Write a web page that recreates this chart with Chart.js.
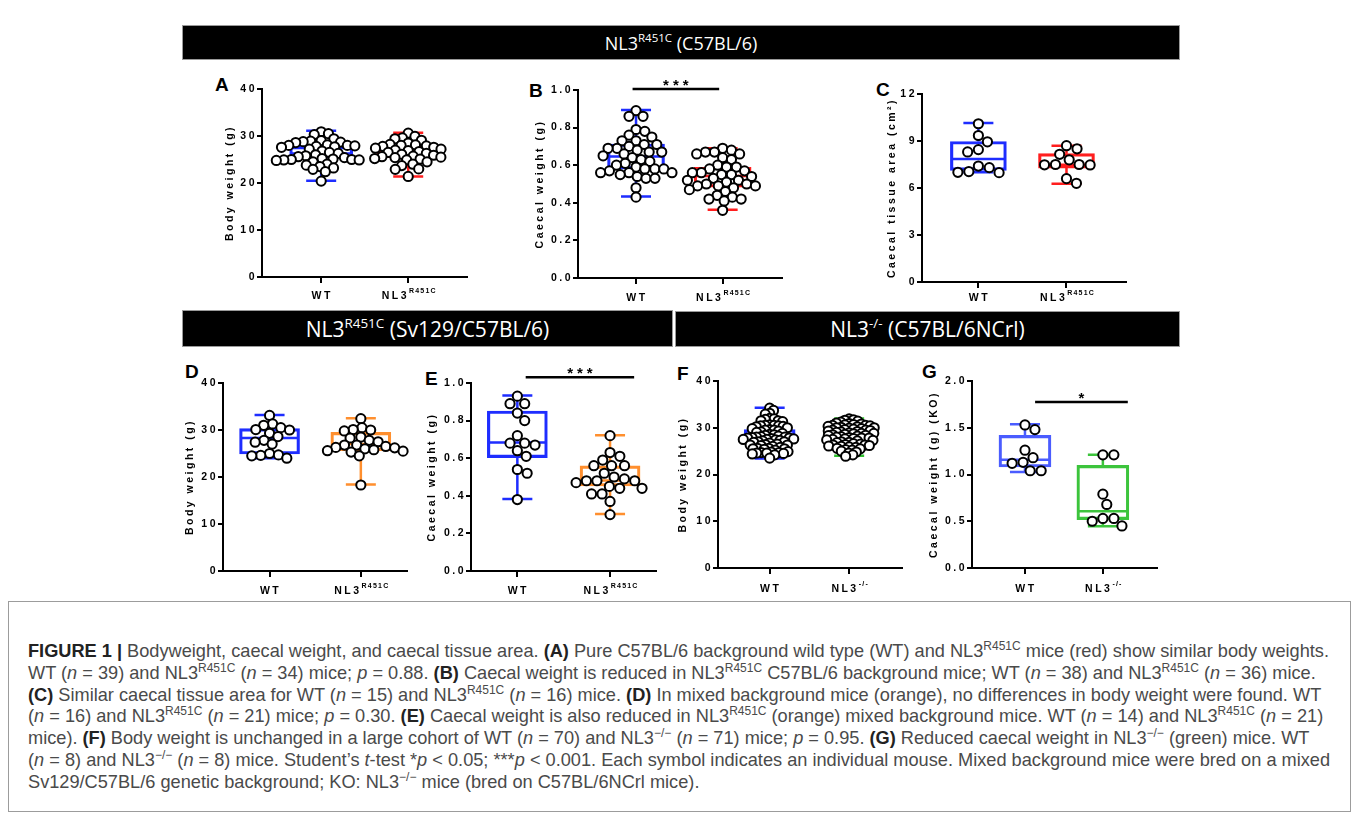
<!DOCTYPE html>
<html>
<head>
<meta charset="utf-8">
<script src="https://cdn.jsdelivr.net/npm/chart.js@4.4.1/dist/chart.umd.min.js"></script>
<style>
    body { margin: 0; background: #fff; width: 1354px; height: 815px; position: relative; overflow: hidden; font-family: "Liberation Sans", Arial, sans-serif; }
    .hdr { position: absolute; background: #000; color: #fff; border: 1px solid #9a9a9a; box-sizing: border-box;
           display: flex; align-items: center; justify-content: center; font-family: "Open Sans", sans-serif; white-space: nowrap; }
    .hdr sup { font-size: 0.64em; vertical-align: 0; position: relative; top: -0.42em; }
    .letter { position: absolute; font: bold 19px/19px "Liberation Sans", Arial, sans-serif; color: #000; }
    #caption { position: absolute; left: 8px; top: 601px; width: 1343px; height: 211px; border: 1px solid #9c9c9c; box-sizing: border-box; }
    .cl { position: absolute; left: 19px; white-space: nowrap; font-size: 18.2px; line-height: 20px; color: #4a4a4a; }
    .cl sup { font-size: 12px; vertical-align: 0; position: relative; top: -7px; }
    .cl b { color: #222; }
</style>
</head>
<body>

<div class="hdr" style="left:182px;top:25px;width:998px;height:35px;font-size:18px;">NL3<sup>R451C</sup>&nbsp;(C57BL/6)</div>
<div class="hdr" style="left:182px;top:310px;width:491px;height:37px;font-size:21px;">NL3<sup>R451C</sup>&nbsp;(Sv129/C57BL/6)</div>
<div class="hdr" style="left:675px;top:311px;width:505px;height:36px;font-size:21px;">NL3<sup>-/-</sup>&nbsp;(C57BL/6NCrl)</div>

<div class="letter" style="left:215px;top:75px;">A</div>
<div class="letter" style="left:529px;top:81px;">B</div>
<div class="letter" style="left:876px;top:80px;">C</div>
<div class="letter" style="left:185px;top:362px;">D</div>
<div class="letter" style="left:425px;top:369px;">E</div>
<div class="letter" style="left:677px;top:364px;">F</div>
<div class="letter" style="left:922px;top:362px;">G</div>

<div id="caption">
    <div class="cl" style="top:39px;"><b>FIGURE 1 |</b> Bodyweight, caecal weight, and caecal tissue area. <b>(A)</b> Pure C57BL/6 background wild type (WT) and NL3<sup>R451C</sup> mice (red) show similar body weights.</div>
    <div class="cl" style="top:61px;">WT (<i>n</i> = 39) and NL3<sup>R451C</sup> (<i>n</i> = 34) mice; <i>p</i> = 0.88. <b>(B)</b> Caecal weight is reduced in NL3<sup>R451C</sup> C57BL/6 background mice; WT (<i>n</i> = 38) and NL3<sup>R451C</sup> (<i>n</i> = 36) mice.</div>
    <div class="cl" style="top:83px;"><b>(C)</b> Similar caecal tissue area for WT (<i>n</i> = 15) and NL3<sup>R451C</sup> (<i>n</i> = 16) mice. <b>(D)</b> In mixed background mice (orange), no differences in body weight were found. WT</div>
    <div class="cl" style="top:104px;">(<i>n</i> = 16) and NL3<sup>R451C</sup> (<i>n</i> = 21) mice; <i>p</i> = 0.30. <b>(E)</b> Caecal weight is also reduced in NL3<sup>R451C</sup> (orange) mixed background mice. WT (<i>n</i> = 14) and NL3<sup>R451C</sup> (<i>n</i> = 21)</div>
    <div class="cl" style="top:126px;">mice). <b>(F)</b> Body weight is unchanged in a large cohort of WT (<i>n</i> = 70) and NL3<sup>−/−</sup> (<i>n</i> = 71) mice; <i>p</i> = 0.95. <b>(G)</b> Reduced caecal weight in NL3<sup>−/−</sup> (green) mice. WT</div>
    <div class="cl" style="top:148px;">(<i>n</i> = 8) and NL3<sup>−/−</sup> (<i>n</i> = 8) mice. Student’s <i>t</i>-test *<i>p</i> &lt; 0.05; ***<i>p</i> &lt; 0.001. Each symbol indicates an individual mouse. Mixed background mice were bred on a mixed</div>
    <div class="cl" style="top:170px;">Sv129/C57BL/6 genetic background; KO: NL3<sup>−/−</sup> mice (bred on C57BL/6NCrl mice).</div>
</div>

<script>
// categories
const catsR451C = ['WT', 'NL3^R451C'];
const catsKO = ['WT', 'NL3^-/-'];

// y ticks
const ticksBody = [0, 10, 20, 30, 40];
const ticksCaecal = [0, 0.2, 0.4, 0.6, 0.8, 1.0];
const ticksArea = [0, 3, 6, 9, 12];
const ticksCaecalKO = [0, 0.5, 1.0, 1.5, 2.0];

// A - body weight, C57BL/6
const bodyWtA = [30.9, 30.5, 30.3, 29.4, 29.0, 28.9, 28.8, 28.7, 28.6, 28.1, 28.0, 28.0, 27.9, 27.8, 27.7, 27.6, 27.2, 26.8, 26.5, 26.3,
                 26.0, 25.8, 25.6, 25.4, 25.2, 25.1, 25.0, 25.0, 24.9, 24.9, 24.8, 24.5, 24.0, 23.8, 23.5, 23.2, 22.9, 22.4, 20.4];
const bodyMutA = [30.6, 29.9, 29.6, 29.4, 29.1, 28.5, 28.2, 28.1, 28.0, 27.9, 27.8, 27.6, 27.4, 27.2, 27.0, 26.9, 26.7, 26.5, 26.3, 26.1,
                  25.9, 25.7, 25.6, 25.5, 25.4, 25.2, 25.1, 24.9, 24.5, 24.0, 23.7, 23.0, 22.9, 21.4];
// box stats: min, q1, median, q3, max
const boxA = [[20.5, 25.4, 26.3, 27.8, 31.1], [21.4, 25.4, 26.8, 27.9, 30.7]];

// B - caecal weight, C57BL/6
const caecWtB = [0.89, 0.86, 0.86, 0.79, 0.78, 0.76, 0.75, 0.73, 0.73, 0.71, 0.71, 0.70, 0.69, 0.69, 0.68, 0.67, 0.67, 0.66, 0.65, 0.64,
                 0.63, 0.62, 0.61, 0.60, 0.59, 0.58, 0.58, 0.58, 0.57, 0.56, 0.56, 0.56, 0.55, 0.54, 0.53, 0.53, 0.48, 0.43];
const caecMutB = [0.69, 0.68, 0.67, 0.67, 0.66, 0.66, 0.64, 0.63, 0.60, 0.59, 0.59, 0.58, 0.57, 0.56, 0.56, 0.55, 0.55, 0.54, 0.53, 0.52,
                  0.52, 0.51, 0.50, 0.50, 0.49, 0.49, 0.49, 0.48, 0.47, 0.46, 0.44, 0.43, 0.42, 0.42, 0.41, 0.36];
const boxB = [[0.434, 0.579, 0.646, 0.713, 0.894], [0.363, 0.483, 0.543, 0.589, 0.690]];

// C - caecal tissue area
const areaWtC = [10.1, 9.35, 8.95, 8.45, 8.3, 7.4, 7.3, 7.05, 7.0, 6.98];
const areaMutC = [8.7, 8.5, 8.15, 7.8, 7.5, 7.48, 7.47, 7.5, 6.6, 6.3];
const boxC = [[7.0, 7.12, 7.85, 8.97, 10.15], [6.27, 7.27, 7.48, 8.19, 8.7]];

// D - body weight, mixed background
const bodyWtD = [33.1, 31.3, 31.0, 30.5, 30.1, 30.0, 29.3, 28.6, 27.8, 27.4, 27.0, 25.0, 24.7, 24.6, 24.5, 24.0];
const bodyMutD = [32.4, 30.5, 30.1, 30.0, 29.8, 28.5, 28.3, 27.8, 27.5, 26.8, 26.8, 26.5, 26.3, 26.2, 26.0, 25.8, 25.6, 25.5, 25.3, 24.5, 18.3];
const boxD = [[24.0, 24.9, 28.3, 30.3, 33.2], [18.4, 25.6, 27.0, 29.5, 32.5]];

// E - caecal weight, mixed background
const caecWtE = [0.93, 0.89, 0.89, 0.84, 0.80, 0.72, 0.68, 0.67, 0.68, 0.64, 0.61, 0.54, 0.52, 0.38];
const caecMutE = [0.72, 0.63, 0.61, 0.59, 0.56, 0.56, 0.56, 0.52, 0.50, 0.49, 0.48, 0.48, 0.48, 0.47, 0.45, 0.44, 0.44, 0.41, 0.41, 0.37, 0.30];
const boxE = [[0.383, 0.603, 0.683, 0.851, 0.934], [0.303, 0.452, 0.482, 0.559, 0.722]];

// F - body weight, KO
const bodyWtF = [34.2, 33.7, 33.1, 32.9, 32.0, 31.9, 31.8, 31.5, 31.5, 31.3, 30.6, 30.5, 30.5, 30.4, 30.4, 30.3, 30.2, 30.0, 29.8, 29.6,
                 29.5, 29.5, 29.3, 29.1, 29.0, 28.8, 28.6, 28.5, 28.4, 28.2, 28.1, 28.0, 28.0, 27.9, 27.8, 27.8, 27.7, 27.6, 27.5, 27.5,
                 27.4, 27.3, 27.2, 27.0, 27.0, 26.9, 26.7, 26.5, 26.4, 26.3, 26.3, 26.2, 26.0, 25.8, 25.6, 25.6, 25.5, 25.5, 25.4, 25.2,
                 24.9, 24.8, 24.7, 24.7, 24.6, 24.6, 24.5, 24.4, 24.2, 23.5];
const bodyKoF = [31.9, 31.7, 31.6, 31.4, 31.2, 31.0, 30.9, 30.8, 30.7, 30.6, 30.5, 30.5, 30.4, 30.3, 30.2, 30.1, 30.0, 30.0, 29.9, 29.8,
                 29.7, 29.6, 29.5, 29.5, 29.4, 29.3, 29.2, 29.1, 29.0, 28.9, 28.8, 28.8, 28.7, 28.6, 28.5, 28.4, 28.3, 28.2, 28.1, 28.0,
                 27.9, 27.8, 27.8, 27.7, 27.6, 27.5, 27.4, 27.3, 27.2, 27.0, 26.9, 26.8, 26.6, 26.5, 26.4, 26.3, 26.3, 26.2, 26.1, 26.0,
                 25.9, 25.8, 25.6, 25.5, 25.3, 25.2, 25.0, 24.8, 24.6, 24.2, 23.9];
const boxF = [[23.4, 26.7, 28.2, 29.6, 34.3], [24.0, 27.4, 28.8, 30.1, 32.0]];

// G - caecal weight, KO
const caecWtG = [1.53, 1.48, 1.26, 1.18, 1.13, 1.12, 1.04, 1.04];
const caecKoG = [1.21, 1.21, 0.79, 0.68, 0.53, 0.53, 0.50, 0.45];
const boxG = [[1.027, 1.08, 1.158, 1.419, 1.537], [0.446, 0.517, 0.606, 1.098, 1.212]];

const FONT = '"Liberation Sans", Arial, sans-serif';
const BLUE = '#1e2dff', RED = '#ff1e1e', ORANGE = '#ff8f2e', GREEN = '#2fc02f';

function beeswarm(chart, groups, gap) {
    const x = chart.scales.x, y = chart.scales.y;
    const unit = x.getPixelForValue(1) - x.getPixelForValue(0);
    groups.forEach((vals, g) => {
        const placed = [];
        const sorted = vals.slice().sort((a, b) => b - a);
        chart.data.datasets[g + 1].data = sorted.map(v => {
            const py = y.getPixelForValue(v);
            const cands = [0];
            placed.forEach(p => {
                const dy = Math.abs(p.y - py);
                if (dy < gap) {
                    const dx = Math.sqrt(gap * gap - dy * dy);
                    cands.push(p.x + dx, p.x - dx);
                }
            });
            cands.sort((a, b) => Math.abs(a) - Math.abs(b));
            const px = cands.find(c => placed.every(p => (p.x - c) ** 2 + (p.y - py) ** 2 >= gap * gap - 0.01));
            placed.push({ x: px, y: py });
            return { x: g + px / unit, y: v };
        });
    });
    chart.update('none');
}

function makePanel(L, d) {
    const W = Math.round(L.titleOff + 6);
    const PT = 34, H = 30, PR = 6;
    const ax = Math.round(L.axisX), at = Math.round(L.top);
    const plotW = Math.round(L.axisR) - ax;
    const plotH = Math.round(L.bottom) - at;
    const left = ax - W, top = at - PT;
    const cw = W + plotW + PR, ch = PT + plotH + H;

    const canvas = document.createElement('canvas');
    canvas.width = cw; canvas.height = ch;
    canvas.style.cssText = `position:absolute;left:${left}px;top:${top}px;width:${cw}px;height:${ch}px;`;
    document.body.appendChild(canvas);

    const whiskers = {
        id: 'whiskers',
        beforeDraw(chart) { chart.ctx.letterSpacing = '2.5px'; },
        beforeDatasetsDraw(chart) {
            const { ctx } = chart; const x = chart.scales.x, y = chart.scales.y;
            d.boxes.forEach((s, i) => {
                const cx = x.getPixelForValue(i);
                const [mn, q1, md, q3, mx] = s.map(v => y.getPixelForValue(v));
                ctx.save();
                ctx.strokeStyle = d.colors[i];
                ctx.lineWidth = 2.5;
                ctx.beginPath();
                ctx.moveTo(cx, q3); ctx.lineTo(cx, mx);
                ctx.moveTo(cx, q1); ctx.lineTo(cx, mn);
                ctx.moveTo(cx - 15, mx); ctx.lineTo(cx + 15, mx);
                ctx.moveTo(cx - 15, mn); ctx.lineTo(cx + 15, mn);
                ctx.moveTo(cx - L.boxW / 2 + 1, md); ctx.lineTo(cx + L.boxW / 2 - 1, md);
                ctx.stroke();
                ctx.restore();
            });
        },
        afterDraw(chart) {
            const { ctx } = chart; const x = chart.scales.x, y = chart.scales.y;
            ctx.save();
            ctx.fillStyle = '#000';
            ctx.textBaseline = 'middle';
            ctx.textAlign = 'left';
            const ly = L.labelY - top;
            d.cats.forEach((lab, i) => {
                const [base, sup] = lab.split('^');
                ctx.font = `bold 10.5px ${FONT}`;
                ctx.letterSpacing = '2.5px';
                const wb = ctx.measureText(base).width;
                let ws = 0;
                if (sup) {
                    ctx.font = `bold 7px ${FONT}`;
                    ctx.letterSpacing = '1.2px';
                    ws = ctx.measureText(sup).width;
                }
                let sx = x.getPixelForValue(i) - (wb + ws) / 2 + 1;
                ctx.font = `bold 10.5px ${FONT}`;
                ctx.letterSpacing = '2.5px';
                ctx.fillText(base, sx, ly);
                if (sup) {
                    ctx.font = `bold 7px ${FONT}`;
                    ctx.letterSpacing = '1.2px';
                    ctx.fillText(sup, sx + wb, ly - 5);
                }
            });
            if (d.sig) {
                const x1 = x.getPixelForValue(d.sig.from), x2 = x.getPixelForValue(d.sig.to);
                const yy = y.getPixelForValue(d.sig.y);
                ctx.strokeStyle = '#000';
                ctx.lineWidth = 2.5;
                ctx.beginPath(); ctx.moveTo(x1, yy); ctx.lineTo(x2, yy); ctx.stroke();
                ctx.font = `bold 15px ${FONT}`;
                ctx.letterSpacing = '4px';
                ctx.textAlign = 'center';
                ctx.textBaseline = 'alphabetic';
                ctx.fillText(d.sig.text, (x1 + x2) / 2 + 2, yy + 1);
            }
            ctx.restore();
        }
    };

    const chart = new Chart(canvas, {
        type: 'bar',
        data: {
            datasets: [
                {
                    type: 'bar',
                    data: d.boxes.map((s, i) => ({ x: i, y: [s[1], s[3]] })),
                    barThickness: L.boxW,
                    backgroundColor: 'rgba(0,0,0,0)',
                    borderColor: d.colors,
                    borderWidth: 2.5,
                    borderSkipped: false,
                    order: 3
                },
                ...d.groups.map((vals, g) => ({
                    type: 'scatter',
                    data: vals.map(v => ({ x: g, y: v })),
                    pointRadius: L.r || 4.6,
                    pointBorderWidth: 2,
                    pointBorderColor: '#000',
                    pointBackgroundColor: '#fff',
                    clip: false,
                    order: 1
                }))
            ]
        },
        options: {
            responsive: false,
            animation: false,
            layout: { padding: { top: PT, right: PR, left: 0, bottom: 0 } },
            plugins: { legend: { display: false }, tooltip: { enabled: false } },
            scales: {
                x: {
                    type: 'linear', min: L.xMin, max: L.xMax, offset: false,
                    afterBuildTicks: s => { s.ticks = [{ value: 0 }, { value: 1 }]; },
                    afterFit: s => { s.height = H; },
                    ticks: { callback: () => '', padding: 0 },
                    grid: { display: true, offset: false, drawOnChartArea: false, drawTicks: true, tickLength: 6, color: '#000', lineWidth: 2 },
                    border: { color: '#000', width: 2 }
                },
                y: {
                    min: 0, max: d.ticks[d.ticks.length - 1],
                    afterBuildTicks: s => { s.ticks = d.ticks.map(v => ({ value: v })); },
                    afterFit: s => { s.width = W; },
                    ticks: {
                        callback: v => d.decimals ? v.toFixed(1) : String(v),
                        font: { family: FONT, size: 10.5, weight: 'bold' },
                        color: '#000', padding: 0
                    },
                    grid: { display: true, drawOnChartArea: false, drawTicks: true, tickLength: 5, color: '#000', lineWidth: 2 },
                    border: { color: '#000', width: 2 },
                    title: {
                        display: true, text: d.title, color: '#000', padding: 0,
                        font: { family: FONT, size: 10.5, weight: 'bold', lineHeight: 1.2 }
                    }
                }
            }
        },
        plugins: [whiskers]
    });

    beeswarm(chart, d.groups, L.gap);
    return chart;
}

makePanel({ axisX: 262, axisR: 468, top: 89.3, bottom: 276.7, xMin: -0.68, xMax: 1.68, titleOff: 32, boxW: 63, labelY: 296.5, gap: 7.5 },
    { cats: catsR451C, ticks: ticksBody, title: 'Body weight (g)', groups: [bodyWtA, bodyMutA], boxes: boxA, colors: [BLUE, RED] });

makePanel({ axisX: 577.7, axisR: 782.7, top: 90, bottom: 278.3, xMin: -0.67, xMax: 1.69, titleOff: 37.7, boxW: 57, labelY: 298, gap: 9 },
    { cats: catsR451C, ticks: ticksCaecal, decimals: true, title: 'Caecal weight (g)', groups: [caecWtB, caecMutB], boxes: boxB, colors: [BLUE, RED],
      sig: { from: -0.04, to: 0.96, y: 1.005, text: '***' } });

makePanel({ axisX: 921.7, axisR: 1126.7, top: 94.3, bottom: 282, xMin: -0.64, xMax: 1.68, titleOff: 30, boxW: 56, labelY: 298, gap: 11 },
    { cats: catsR451C, ticks: ticksArea, title: 'Caecal tissue area (cm²)', groups: [areaWtC, areaMutC], boxes: boxC, colors: [BLUE, RED] });

makePanel({ axisX: 223.3, axisR: 408.3, top: 383.3, bottom: 570.7, xMin: -0.51, xMax: 1.51, titleOff: 33, boxW: 60, labelY: 591, gap: 9 },
    { cats: catsR451C, ticks: ticksBody, title: 'Body weight (g)', groups: [bodyWtD, bodyMutD], boxes: boxD, colors: [BLUE, ORANGE] });

makePanel({ axisX: 471, axisR: 656.7, top: 382.7, bottom: 570.7, xMin: -0.5, xMax: 1.5, titleOff: 39, boxW: 60, labelY: 591, gap: 10.5 },
    { cats: catsR451C, ticks: ticksCaecal, decimals: true, title: 'Caecal weight (g)', groups: [caecWtE, caecMutE], boxes: boxE, colors: [BLUE, ORANGE],
      sig: { from: 0.09, to: 1.26, y: 1.03, text: '***' } });

makePanel({ axisX: 718.3, axisR: 903.3, top: 380.7, bottom: 567.7, xMin: -0.65, xMax: 1.67, titleOff: 35, boxW: 51, labelY: 589, gap: 4.5 },
    { cats: catsKO, ticks: ticksBody, title: 'Body weight (g)', groups: [bodyWtF, bodyKoF], boxes: boxF, colors: [BLUE, GREEN] });

makePanel({ axisX: 971.7, axisR: 1158.3, top: 380.7, bottom: 567.7, xMin: -0.68, xMax: 1.70, titleOff: 38.4, boxW: 52, labelY: 589, gap: 11 },
    { cats: catsKO, ticks: ticksCaecalKO, decimals: true, title: 'Caecal weight (g) (KO)', groups: [caecWtG, caecKoG], boxes: boxG, colors: ['#4a5cff', '#3cc43c'],
      sig: { from: 0.13, to: 1.32, y: 1.775, text: '*' } });
</script>
</body>
</html>
